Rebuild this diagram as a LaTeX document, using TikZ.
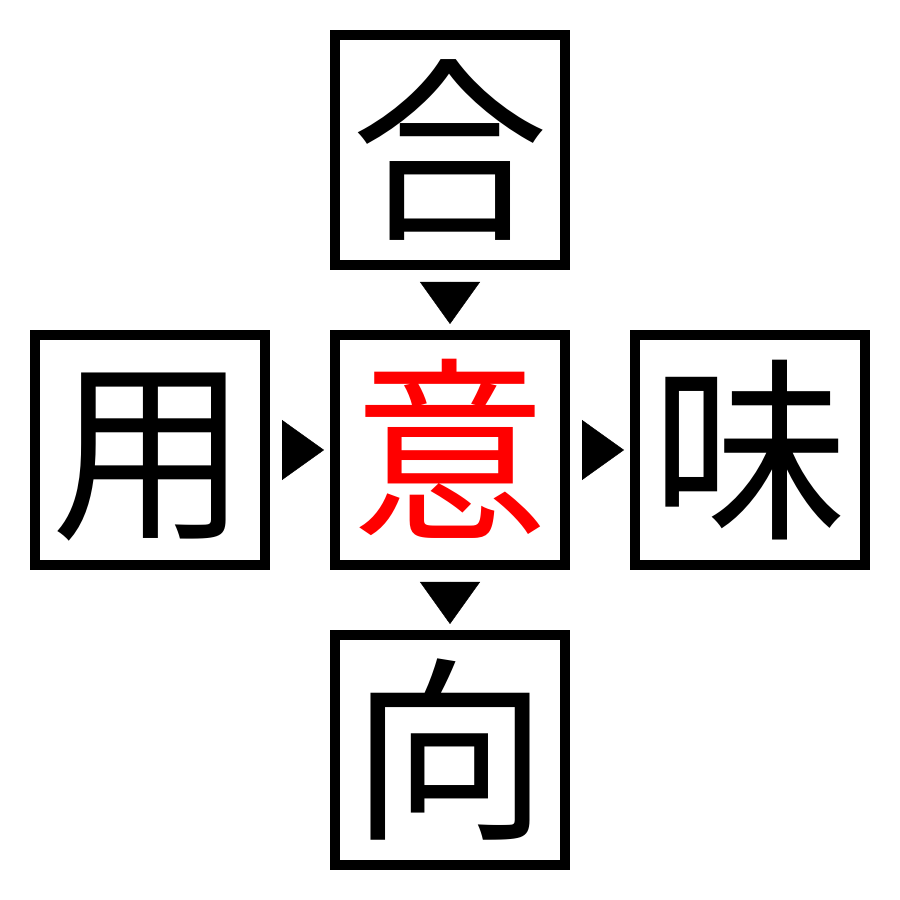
\documentclass[tikz,border=0pt]{standalone}
\usepackage{fontspec}
\newfontfamily\jpfont{Noto Sans CJK JP}
\usetikzlibrary{positioning, arrows.meta}

\begin{document}
\begin{tikzpicture}[
    cell/.style = {draw, line width=0.1cm, minimum size=2.3cm, inner sep=0pt,
                   font=\jpfont\fontsize{56}{56}\selectfont,
                   text height=49.28pt, text depth=6.72pt},
    arr/.style = {-{Triangle[width=0.6cm, length=0.42cm]}, line width=0.1pt,
                  shorten <=0.12cm, shorten >=0.06cm},
    node distance = 0.6cm
  ]
        \useasboundingbox (0,0) rectangle (9,9);
        \node[cell, text=red] (yi) at (4.5,4.5) {意} ; %
        \node[cell, above = of yi] (go) {合} ; %
        \node[cell, left = of yi] (you) {用} ; %
        \node[cell, right = of yi] (mi) {味} ; %
        \node[cell, below = of yi] (kou) {向} ; %
        %
        \draw[arr] (go) -- (yi) ; %
        \draw[arr] (you) -- (yi) ; %
        \draw[arr] (yi) -- (mi) ; %
        \draw[arr] (yi) -- (kou) ; %
\end{tikzpicture}
\end{document}
